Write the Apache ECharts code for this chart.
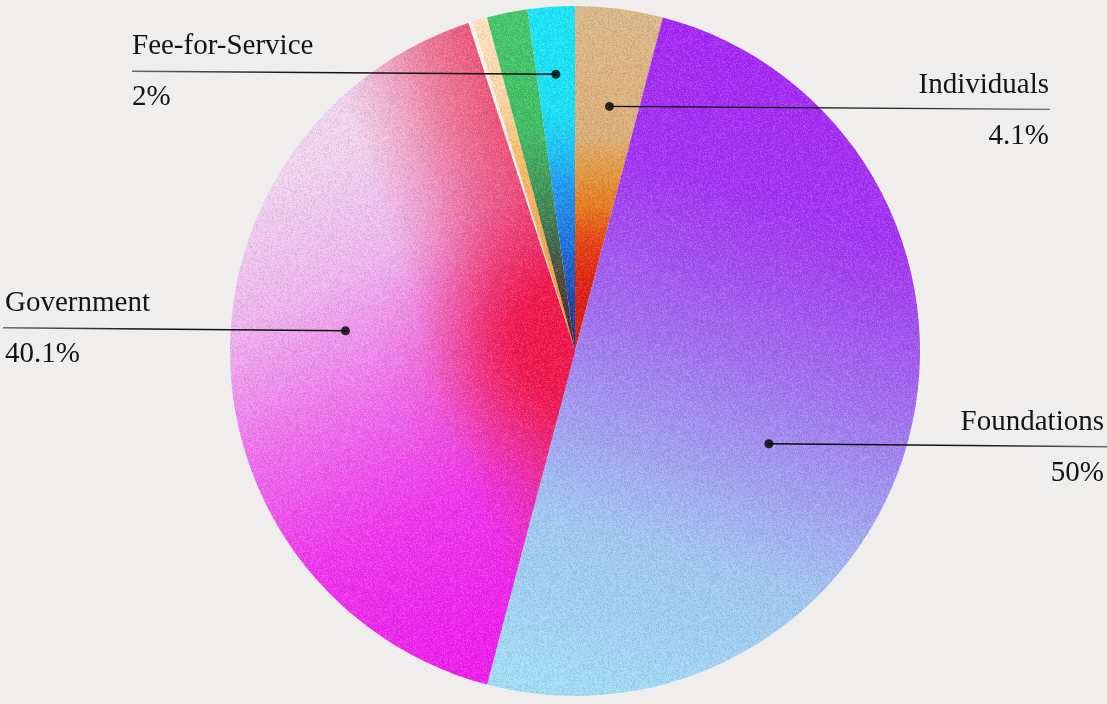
<!DOCTYPE html>
<html>
<head>
<meta charset="utf-8">
<style>
  html, body { margin: 0; padding: 0; background: #efeeec; }
  #main { width: 1107px; height: 704px; }
</style>
<script src="https://cdn.jsdelivr.net/npm/echarts@6/dist/echarts.min.js"></script>
</head>
<body>
<div id="main"></div>
<script>
// slices, clockwise from 12 o'clock
var categories = ['Individuals', 'Foundations', 'Government', 'Other 1', 'Other 2', 'Other 3', 'Fee-for-Service'];
var values = [4.1, 50, 40.9, 0.2, 0.7, 1.9, 2.2];
// printed percentages ('' = no label)
var pctText = ['4.1%', '50%', '40.1%', '', '', '', '2%'];

// where each label's dot sits inside its slice (turn %, fraction of radius)
var anchorPct = [2.23, 32.1, 76.4, 0, 0, 0, 98.9];
var anchorR = [0.716, 0.623, 0.668, 0, 0, 0, 0.804];

// label text placement
var lineEndX = [1050, 1107, 3, 132, 0, 0, 132];
var textX = [1049, 1104, 5, 132, 0, 0, 132];
var lineTilt = [3, 3, -3, 0, 0, 0, -3];

var CX = 575, CY = 351, R = 345;
var FONT = '"Liberation Serif", "Times New Roman", serif';

function grad(stops, x, y, x2, y2, global) {
  return {
    type: 'linear', x: x, y: y, x2: x2, y2: y2, global: !!global,
    colorStops: stops.map(function (s) { return { offset: s[0], color: s[1] }; })
  };
}
function vgrad(stops) { return grad(stops, 0, 0, 0, 1); }

var baseColors = [
  vgrad([[0, '#dcb888'], [0.38, '#ddae76'], [0.48, '#e4963c'], [0.58, '#e8781a'], [0.68, '#e6400e'], [0.8, '#e01c0a'], [1, '#d81410']]),
  grad([[0, '#a21cf6'], [0.28, '#a22ef4'], [0.48, '#a066f1'], [0.62, '#a094f2'], [0.78, '#a0c6f4'], [1, '#a0dcf6']], 0.8, 0, 0.3, 1),
  grad([[0, '#f2d4f0'], [0.22, '#f0b4f0'], [0.45, '#f070ee'], [0.7, '#f030ee'], [1, '#f018ee']], 0.1, 0.25, 0.75, 0.95),
  '#fff6f0',
  vgrad([[0, '#ffe3c2'], [0.25, '#ffd6a2'], [0.45, '#fcb860'], [0.75, '#f6a242'], [1, '#f09030']]),
  vgrad([[0, '#3ec868'], [0.35, '#3cbe60'], [0.52, '#3a9656'], [0.66, '#3c6c48'], [0.82, '#4a3c30'], [1, '#401c20']]),
  vgrad([[0, '#14e6f8'], [0.3, '#14e2f8'], [0.42, '#18c2f6'], [0.52, '#1a98f2'], [0.68, '#1870e0'], [0.84, '#1448b0'], [1, '#102a80']])
];

// red shading along the upper edge of the Government slice
var edgeRed = grad([
  [0, 'rgba(236,30,72,0.7)'], [0.35, 'rgba(236,30,72,0.5)'],
  [0.7, 'rgba(236,30,72,0.2)'], [1, 'rgba(236,30,72,0)']
], CX, CY, CX - 133, CY + 44, true);

// red glow at the centre of the Government slice
var glow = {
  type: 'radial', x: CX, y: 340, r: 200, global: true,
  colorStops: [
    { offset: 0, color: 'rgba(242,16,70,1)' },
    { offset: 0.3, color: 'rgba(242,16,70,0.95)' },
    { offset: 0.55, color: 'rgba(242,20,80,0.45)' },
    { offset: 0.8, color: 'rgba(242,30,100,0.1)' },
    { offset: 1, color: 'rgba(242,30,100,0)' }
  ]
};

// film grain texture laid over the pie
function makeGrain() {
  var size = 160;
  var c = document.createElement('canvas');
  c.width = c.height = size;
  var g = c.getContext('2d');
  var img = g.createImageData(size, size);
  var s = 12345;
  for (var k = 0; k < img.data.length; k += 4) {
    s = (Math.imul(s, 1103515245) + 12345) >>> 0;
    var n = ((s >>> 16) & 0x7fff) / 32767;
    var v = n > 0.45 ? 255 : 70;
    img.data[k] = img.data[k + 1] = img.data[k + 2] = v;
    img.data[k + 3] = Math.round(Math.abs(n - 0.45) * 2 * 40);
  }
  g.putImageData(img, 0, 0);
  return c;
}
var grain = { image: makeGrain(), repeat: 'repeat' };

function dotPos(i) {
  var a = anchorPct[i] / 100 * Math.PI * 2;
  return [CX + anchorR[i] * R * Math.sin(a), CY - anchorR[i] * R * Math.cos(a)];
}

var pieBase = {
  type: 'pie',
  center: [CX, CY],
  radius: R,
  startAngle: 90,
  clockwise: true,
  silent: true,
  avoidLabelOverlap: false,
  label: { show: false },
  labelLine: { show: false },
  itemStyle: { borderWidth: 0 }
};

// one pie layer; colorOf(name, i) gives each slice's fill
function pieLayer(colorOf, extra) {
  return Object.assign({}, pieBase, {
    data: categories.map(function (c, i) {
      return { name: c, value: values[i], itemStyle: { color: colorOf(c, i) } };
    })
  }, extra || {});
}
var clear = 'rgba(0,0,0,0)';

var myChart = echarts.init(document.getElementById('main'), null, { renderer: 'canvas' });

var option = {
  backgroundColor: '#efeeec',
  animation: false,
  textStyle: { fontFamily: FONT },
  polar: { center: [CX, CY], radius: R },
  angleAxis: { type: 'value', min: 0, max: 100, startAngle: 90, clockwise: true, show: false },
  radiusAxis: { type: 'value', min: 0, max: 1, show: false },
  series: [
    pieLayer(function (c, i) { return baseColors[i]; }),
    pieLayer(function (c) { return c === 'Government' ? edgeRed : clear; }),
    pieLayer(function (c) { return c === 'Government' ? glow : clear; }),
    pieLayer(function () { return grain; }),
    Object.assign({}, pieBase, {
      z: 4,
      label: {
        show: true,
        position: 'outside',
        color: '#141414',
        formatter: function (p) {
          return '{n|' + p.name + '}\n{v|' + pctText[p.dataIndex] + '}';
        },
        rich: {
          n: { fontFamily: FONT, fontSize: 29, lineHeight: 51, color: '#141414' },
          v: { fontFamily: FONT, fontSize: 29, lineHeight: 51, color: '#141414' }
        }
      },
      labelLine: { show: true, lineStyle: { width: 1.4, color: '#151515' } },
      labelLayout: function (p) {
        var i = p.dataIndex;
        if (!pctText[i]) return {};
        var d = dotPos(i);
        var ey = d[1] + lineTilt[i];
        var right = lineEndX[i] > d[0];
        return {
          x: textX[i],
          y: ey + 1,
          align: right ? 'right' : 'left',
          verticalAlign: 'middle',
          labelLinePoints: [d, [(d[0] + lineEndX[i]) / 2, (d[1] + ey) / 2], [lineEndX[i], ey]]
        };
      },
      data: categories.map(function (c, i) {
        var has = pctText[i] !== '';
        var right = lineEndX[i] > CX;
        return {
          name: c,
          value: values[i],
          itemStyle: { color: clear },
          label: { show: has },
          labelLine: {
            show: has,
            lineStyle: {
              color: grad(right ? [[0, '#0a0a0a'], [0.6, '#161616'], [1, '#6a6a6a']]
                                 : [[0, '#6a6a6a'], [0.4, '#161616'], [1, '#0a0a0a']], 0, 0, 1, 0)
            }
          }
        };
      })
    }),
    {
      type: 'scatter',
      coordinateSystem: 'polar',
      silent: true,
      symbol: 'circle',
      symbolSize: 9,
      z: 6,
      itemStyle: { color: '#000' },
      data: categories.map(function (c, i) { return [anchorR[i], anchorPct[i]]; })
        .filter(function (d, i) { return pctText[i] !== ''; })
    }
  ]
};

myChart.setOption(option);
</script>
</body>
</html>
